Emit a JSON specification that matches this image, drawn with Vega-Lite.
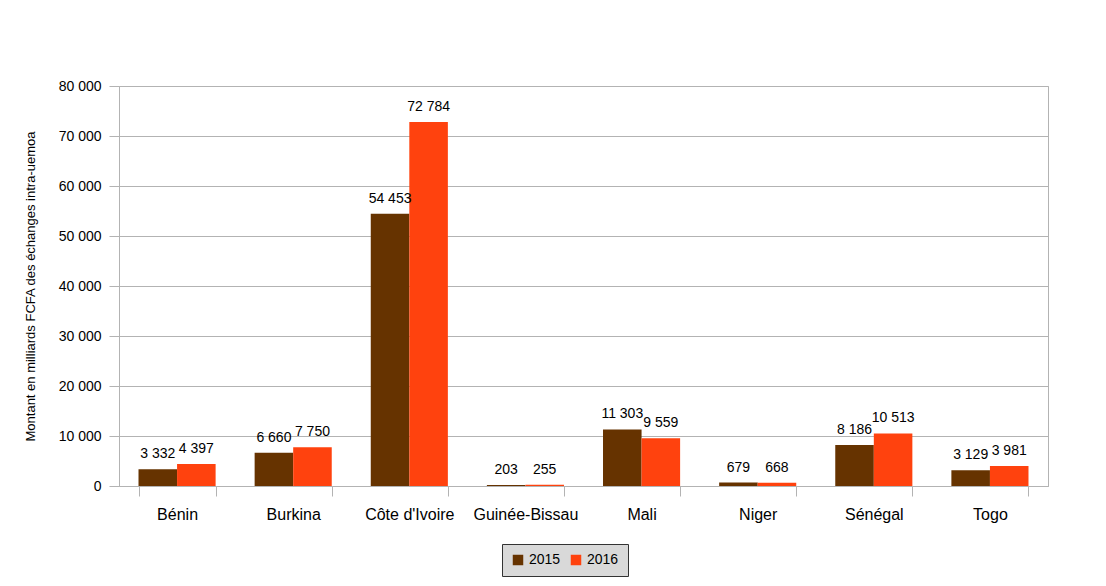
{
  "$schema": "https://vega.github.io/schema/vega-lite/v6.json",
  "width": 929,
  "height": 400,
  "autosize": {"type": "none"},
  "padding": {"left": 119, "top": 86, "right": 58, "bottom": 100},
  "background": "white",
  "config": {
    "font": "Liberation Sans",
    "locale": {"number": {"decimal": ",", "thousands": " ", "grouping": [3], "currency": ["", " €"]}},
    "view": {"stroke": "#b3b3b3", "strokeWidth": 1},
    "axis": {"gridColor": "#b3b3b3", "domainColor": "#b3b3b3", "tickColor": "#b3b3b3", "labelColor": "black", "titleColor": "black"}
  },
  "data": {
    "values": [
      {"pays": "Bénin", "annee": "2015", "valeur": 3332},
      {"pays": "Bénin", "annee": "2016", "valeur": 4397},
      {"pays": "Burkina", "annee": "2015", "valeur": 6660},
      {"pays": "Burkina", "annee": "2016", "valeur": 7750},
      {"pays": "Côte d'Ivoire", "annee": "2015", "valeur": 54453},
      {"pays": "Côte d'Ivoire", "annee": "2016", "valeur": 72784},
      {"pays": "Guinée-Bissau", "annee": "2015", "valeur": 203},
      {"pays": "Guinée-Bissau", "annee": "2016", "valeur": 255},
      {"pays": "Mali", "annee": "2015", "valeur": 11303},
      {"pays": "Mali", "annee": "2016", "valeur": 9559},
      {"pays": "Niger", "annee": "2015", "valeur": 679},
      {"pays": "Niger", "annee": "2016", "valeur": 668},
      {"pays": "Sénégal", "annee": "2015", "valeur": 8186},
      {"pays": "Sénégal", "annee": "2016", "valeur": 10513},
      {"pays": "Togo", "annee": "2015", "valeur": 3129},
      {"pays": "Togo", "annee": "2016", "valeur": 3981}
    ]
  },
  "encoding": {
    "x": {
      "field": "pays", "type": "nominal", "sort": null, "title": null,
      "scale": {"paddingInner": 0.336, "paddingOuter": 0.168},
      "axis": {"labelAngle": 0, "labelFontSize": 16, "labelPadding": 10, "tickBand": "extent", "tickSize": 10, "grid": false, "domainColor": "#b3b3b3"}
    },
    "xOffset": {"field": "annee", "type": "nominal"},
    "y": {
      "field": "valeur", "type": "quantitative",
      "scale": {"domain": [0, 80000], "nice": false},
      "title": "Montant en milliards FCFA des échanges intra-uemoa",
      "axis": {"values": [0,10000,20000,30000,40000,50000,60000,70000,80000], "format": ",d", "labelFontSize": 14, "tickSize": 10, "labelPadding": 8, "titleFontSize": 13, "titleFontWeight": "normal", "titlePadding": 21, "domain": false}
    }
  },
  "layer": [
    {
      "mark": {"type": "bar"},
      "encoding": {
        "color": {
          "field": "annee", "type": "nominal",
          "scale": {"domain": ["2015", "2016"], "range": ["#663300", "#ff420e"]},
          "legend": {
            "title": null, "orient": "none", "direction": "horizontal",
            "legendX": 383, "legendY": 458,
            "symbolType": "square", "symbolSize": 110, "symbolStrokeWidth": 0,
            "labelFontSize": 14, "labelColor": "black",
            "fillColor": "#d9d9d9", "strokeColor": "#333333", "padding": 9,
            "columnPadding": 8
          }
        }
      }
    },
    {
      "mark": {"type": "text", "baseline": "bottom", "dy": -8, "fontSize": 14, "color": "black"},
      "encoding": {
        "text": {"field": "valeur", "type": "quantitative", "format": ",d"}
      }
    }
  ]
}
